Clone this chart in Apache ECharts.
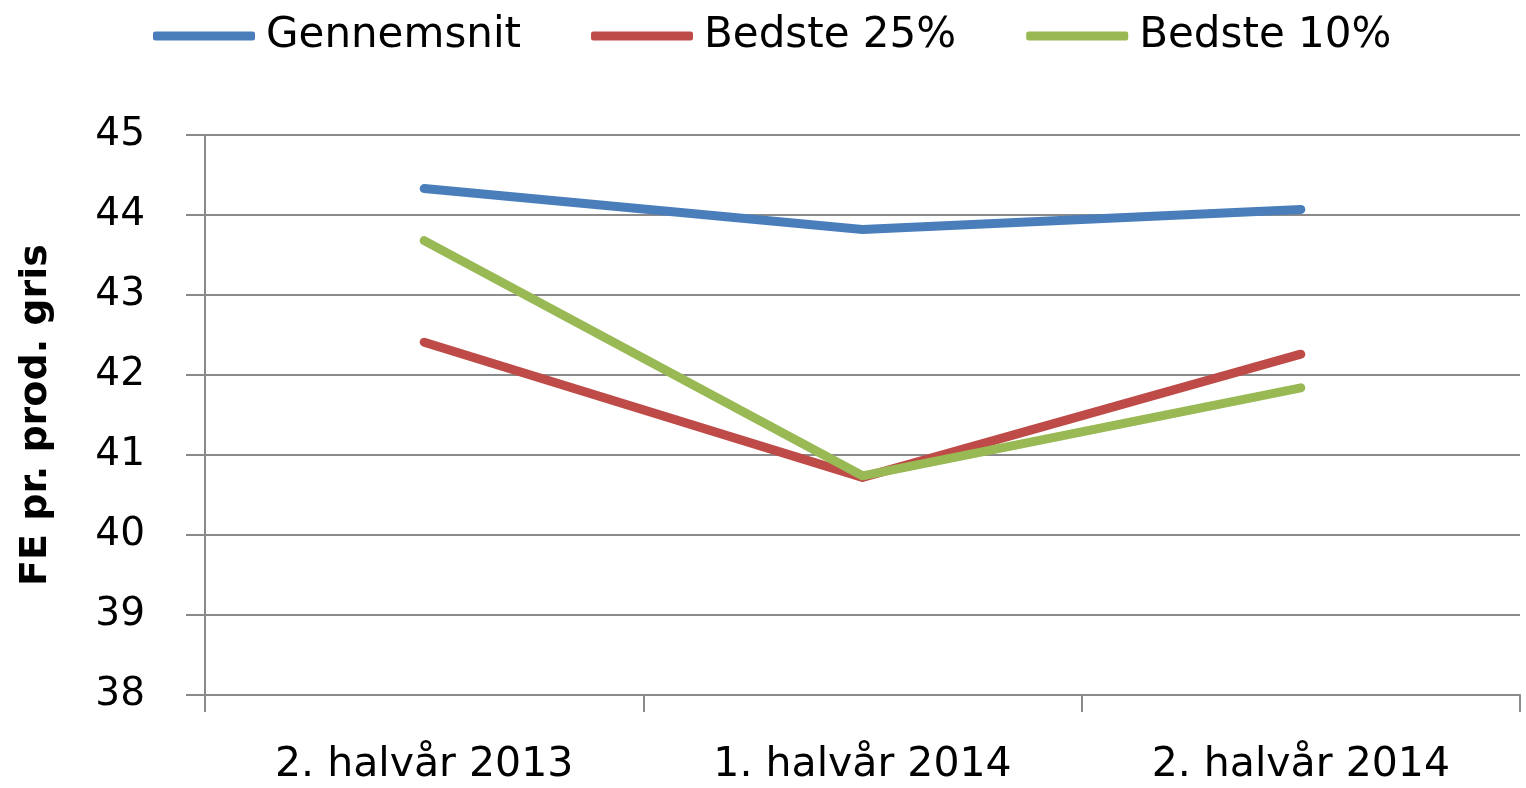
<!DOCTYPE html>
<html><head><meta charset="utf-8">
<script src="https://cdn.jsdelivr.net/npm/echarts@6/dist/echarts.min.js"></script>
<style>html,body{margin:0;padding:0;background:#fff}#c{width:1526px;height:788px}</style>
</head><body><div id="c"></div>
<script>
const categories = ['2. halvår 2013', '1. halvår 2014', '2. halvår 2014'];
const gennemsnit = [44.33, 43.82, 44.07];
const bedste25 = [42.41, 40.72, 42.26];
const bedste10 = [43.68, 40.74, 41.84];
const yTicks = [38, 39, 40, 41, 42, 43, 44, 45];
const yTitle = 'FE pr. prod. gris';

const font = 'DejaVu Sans';
const chart = echarts.init(document.getElementById('c'));
const mk = (name, data, color) => ({
  name, type: 'line', data, showSymbol: false, symbol: 'none',
  lineStyle: { color, width: 9, cap: 'round', join: 'round' },
  itemStyle: { color }, smooth: false, animation: false
});
chart.setOption({
  animation: false,
  backgroundColor: '#fff',
  legend: {
    top: 10, left: 148, itemWidth: 102, itemHeight: 9, itemGap: 70, icon: 'roundRect',
    textStyle: { fontFamily: font, fontSize: 42, color: '#000', padding: [0, 0, 0, 6] },
    data: ['Gennemsnit', 'Bedste 25%', 'Bedste 10%']
  },
  grid: { left: 205, right: 6, top: 135, bottom: 93, containLabel: false },
  xAxis: {
    type: 'category', data: categories, boundaryGap: true,
    axisLine: { lineStyle: { color: '#8a8a8a', width: 2 } },
    axisTick: { show: true, length: 17, lineStyle: { color: '#8a8a8a', width: 2 } },
    axisLabel: { fontFamily: font, fontSize: 41, color: '#000', margin: 50 }
  },
  yAxis: {
    type: 'value', min: yTicks[0], max: yTicks[yTicks.length - 1], interval: 1,
    name: yTitle, nameLocation: 'middle', nameGap: 150, nameRotate: 90,
    nameTextStyle: { fontFamily: font, fontSize: 38, fontWeight: 'bold', color: '#000' },
    axisLine: { show: true, lineStyle: { color: '#8a8a8a', width: 2 } },
    axisTick: { show: true, length: 19, lineStyle: { color: '#8a8a8a', width: 2 } },
    splitLine: { lineStyle: { color: '#8a8a8a', width: 2 } },
    axisLabel: { fontFamily: font, fontSize: 39, color: '#000', margin: 60 }
  },
  series: [
    mk('Gennemsnit', gennemsnit, '#4a7ebb'),
    mk('Bedste 25%', bedste25, '#be4b48'),
    mk('Bedste 10%', bedste10, '#98b954')
  ]
});
</script></body></html>
